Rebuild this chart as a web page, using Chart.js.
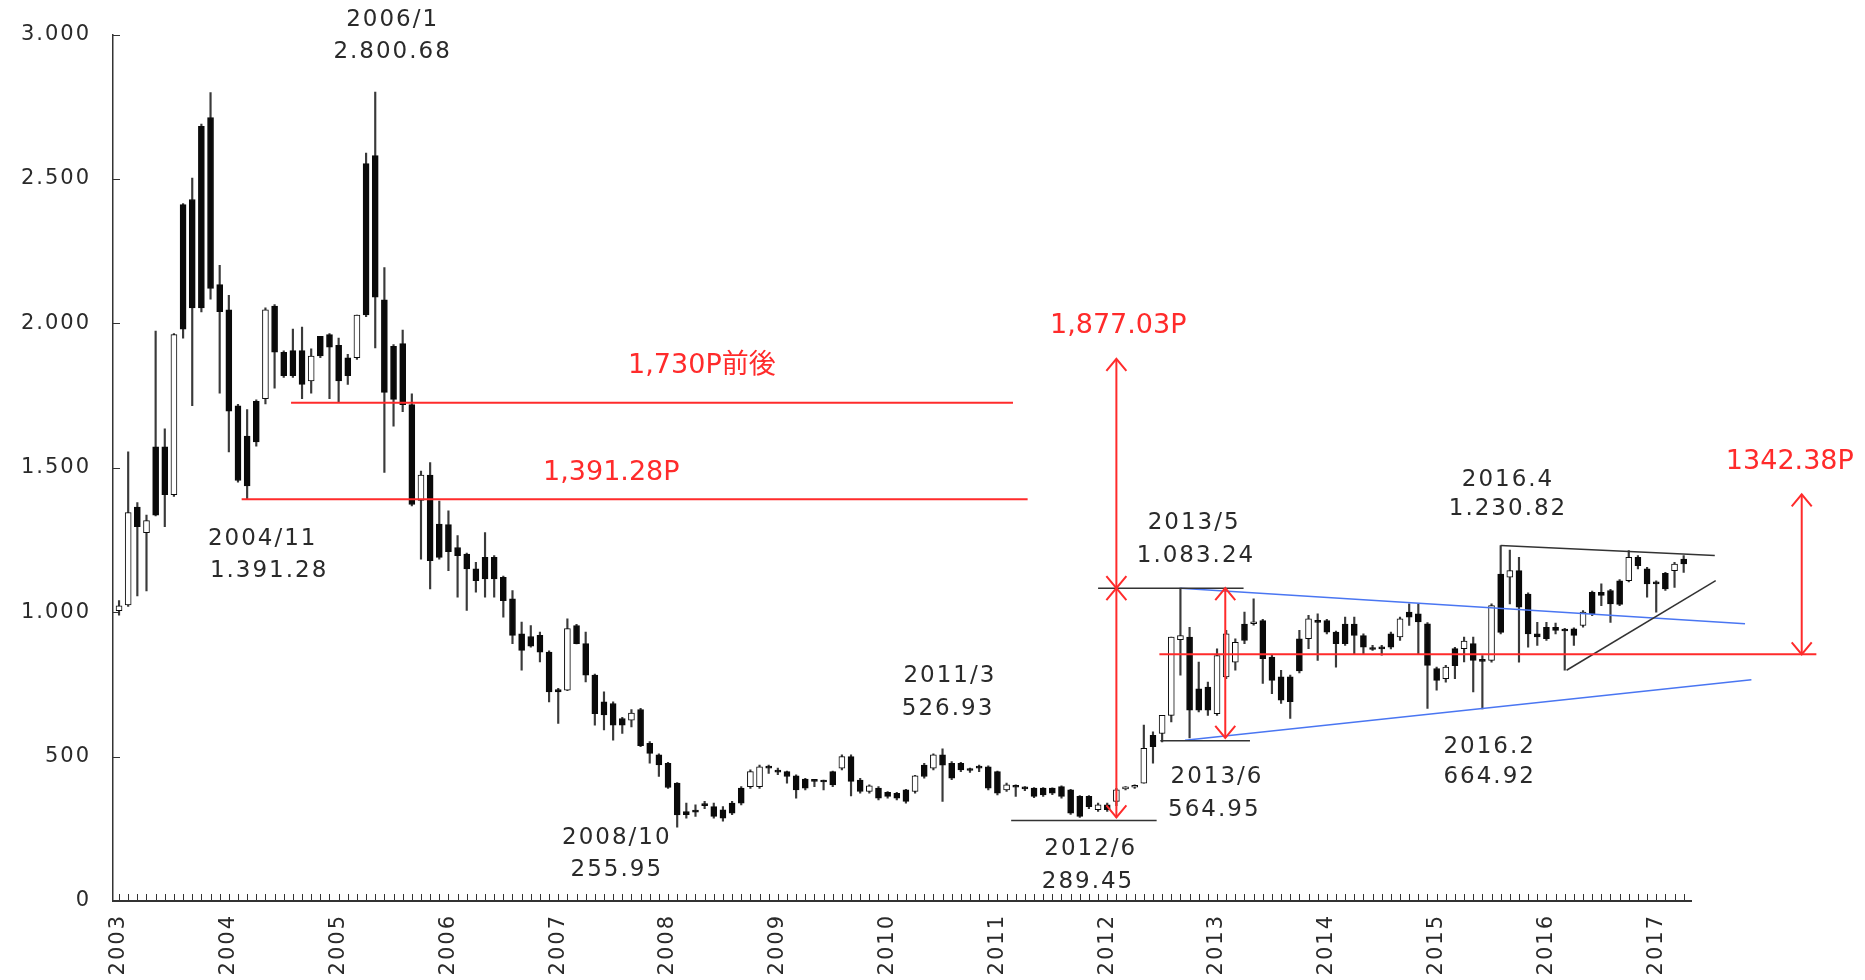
<!DOCTYPE html>
<html><head><meta charset="utf-8">
<script src="https://cdn.jsdelivr.net/npm/chart.js@4.4.1/dist/chart.umd.min.js"></script>
<style>html,body{margin:0;padding:0;background:#fff}#wrap{width:1865px;height:980px;position:relative}</style>
</head><body><div id="wrap"><canvas id="c" width="1865" height="980"></canvas></div>
<script>
// ---- monthly candles, index 0 = 2003/9 ----
const open  = [1005,1025,1364,1275,1573,1573,1407,2411,2429,2682,2713,2134,2047,1715,1610,1730,1739,2060,1900,1906,1906,1801,1955,1961,1924,1881,1881,2553,2581,2082,1921,1930,1719,1387,1475,1305,1303,1224,1201,1150,1190,1190,1121,1046,925,916,920,862,732,730,954,891,782,690,684,632,626,663,546,506,477,408,310,315,335,327,316,339,391,396,396,465,450,448,433,422,418,416,448,460,500,419,379,391,376,373,385,379,471,460,506,477,477,456,466,465,448,385,398,392,391,391,391,396,385,362,362,316,333,345,388,394,408,574,580,643,905,914,735,741,649,776,827,959,960,971,845,776,776,908,908,971,971,931,959,959,919,876,879,925,914,1000,994,960,805,770,874,874,891,835,833,1132,1121,1144,1063,925,948,948,940,942,954,1069,1069,1075,1109,1109,1190,1150,1104,1135,1144,1184];
const high  = [1040,1555,1380,1336,1973,1635,1965,2415,2503,2690,2799,2201,2097,1720,1702,1735,2054,2065,1905,1980,1987,1912,1955,1965,1949,1893,2029,2590,2800.68,2193,1927,1977,1756,1489,1518,1385,1351,1265,1205,1173,1276,1196,1125,1075,966,954,931,866,736,977,958,931,786,724,690,636,663,667,552,510,480,410,339,333,345,339,327,345,396,454,471,471,460,450,437,425,419,419,450,506,506,425,402,396,379,376,387,435,477,510,526.93,483,480,460,471,468,450,408,402,396,393,393,392,399,387,365,365,339,339,390,396,402,609,586,643,914,1083.24,948,827,758,873,937,908,1000,1046,975,851,799,782,937,989,994,975,935,983,983,925,885,885,931,983,1029,1029,964,810,816,878,914,914,850,1029,1230.82,1215,1190,1067,965,965,962,944,946,1006,1073,1098,1079,1113,1213,1196,1155,1109,1138,1173,1196];
const low   = [990,1020,1056,1074,1333,1296,1401,1949,1715,2040,2084,1758,1555,1450,1391.28,1575,1721,1776,1813,1813,1739,1758,1881,1739,1727,1789,1875,2023,1915,1484,1644,1694,1368,1184,1081,1184,1144,1052,1006,1069,1052,1052,983,891,799,879,828,689,615,728,890,759,609,592,557,580,603,534,477,431,390,255.95,287,293,320,287,276,299,333,390,390,442,437,408,356,385,396,385,396,454,364,373,373,350,356,350,339,373,425,454,345,420,448,445,448,385,367,379,362,382,358,362,368,356,300,289.45,320,310,310,330,385,390,408,477,551,620,782,564.95,655,643,643,770,799,891,955,753,718,684,632,790,874,833,925,810,885,856,856,868,851,873,902,954,856,667,730,758,770,828,724,664.92,827,925,1029,827,879,885,902,925,799,885,948,988,1023,965,1023,1105,1150,1052,1000,1075,1086,1138];
const close = [1022,1345,1296,1317,1336,1407,1961,1980,2054,2054,2121,2041,1696,1456,1437,1590,2047,1900,1819,1819,1789,1887,1887,1918,1801,1819,2029,2029,2091,1761,1737,1719,1373,1475,1178,1190,1210,1196,1150,1109,1115,1115,1040,920,868,882,862,724,724,943,891,782,649,644,609,609,651,538,511,471,393,298,299,308,330,293,287,304,339,448,465,460,446,431,385,391,414,412,402,500,414,379,399,356,362,356,345,433,431,506,470,425,454,452,460,391,373,402,394,388,362,367,373,362,304,293,327,333,316,385,392,398,529,534,643,914,919,661,661,661,850,925,896,902,966,839,764,695,690,797,977,965,931,891,891,920,879,871,873,879,977,983,966,816,764,810,815,900,833,830,1023,930,1144,1017,925,914,908,937,935,920,1000,994,1058,1029,1027,1190,1161,1098,1098,1081,1167,1167];

// ---- axis labels ----
const yearTickIdx = [0,12,24,36,48,60,72,84,96,108,120,132,144,156,168];
const yearLabels  = ['2003','2004','2005','2006','2007','2008','2009','2010','2011','2012','2013','2014','2015','2016','2017'];
const yTickValues = [0,500,1000,1500,2000,2500,3000];
const yTickLabels = ['0','500','1.000','1.500','2.000','2.500','3.000'];

// ---- drawn reference lines: [x1, y1, x2, y2] in (month index, index value) ----
const redLines   = [[18.8,1725,97.7,1725],[13.4,1391.28,99.3,1391.28],[113.7,854,185.5,854]];
const blackLines = [[107,1083.24,122.9,1083.24],[113.8,555,123.6,555],[97.5,279,113.4,279],[151,1230.82,174.4,1196],[158.2,799,174.5,1109]];
const blueLines  = [[116,1083.24,177.7,960],[116.5,557,178.4,766]];
// double-headed arrows: [x, from, to]
const arrows = [[109,1083.24,1877],[109,289.45,1083.24],[120.9,564.95,1083.24],[183.9,854,1408]];
// text notes: [text, x, y, kind]
const notes = [
  ['2006/1',29.9,3049,'b'],['2.800.68',29.9,2938,'b'],
  ['2004/11',15.7,1254,'b'],['1.391.28',16.4,1144,'b'],
  ['2008/10',54.4,217,'b'],['255.95',54.4,107,'b'],
  ['2011/3',90.8,778,'b'],['526.93',90.6,664,'b'],
  ['2012/6',106.2,181,'b'],['289.45',105.9,66,'b'],
  ['2013/5',117.5,1310,'b'],['1.083.24',117.7,1196,'b'],
  ['2013/6',120,430,'b'],['564.95',119.7,316,'b'],
  ['2016.4',151.8,1458,'b'],['1.230.82',151.8,1358,'b'],
  ['2016.2',149.8,533,'b'],['664.92',149.8,430,'b'],
  ['1,730P前後',63.7,1851,'r'],['1,391.28P',53.8,1482,'r'],
  ['1,877.03P',109.2,1990,'r'],['1342.38P',182.6,1521,'r']
];

const RED='#ff2b2b', BLUE='#4a76f2', DARK='#333333';
const idx = open.map((_, i) => i);
const bodyData = idx.map(i => ({x:i, y:[Math.min(open[i],close[i]), Math.max(open[i],close[i])]}));
const wickData = idx.map(i => ({x:i, y:[low[i], high[i]]}));
const bodyColors = idx.map(i => close[i] >= open[i] ? '#ffffff' : '#0a0a0a');

function seg(l, color, w){
  return {type:'line', data:[{x:l[0],y:l[1]},{x:l[2],y:l[3]}], borderColor:color, borderWidth:w,
    pointRadius:0, tension:0, clip:false, order:0};
}
const lineSets = [
  ...redLines.map(l=>seg(l,RED,2)),
  ...blackLines.map(l=>seg(l,DARK,1.5)),
  ...blueLines.map(l=>seg(l,BLUE,1.5))
];

const FONT = '"DejaVu Sans", "Noto Sans CJK JP", sans-serif';

const decor = {
  id:'decor',
  beforeDraw(chart){ chart.ctx.letterSpacing = '2px'; },
  afterDraw(chart){
    const {ctx, scales:{x, y}} = chart;
    ctx.save();
    // monthly tick marks (inside, above the axis)
    const yb = y.getPixelForValue(0);
    ctx.strokeStyle = DARK; ctx.lineWidth = 1;
    ctx.beginPath();
    idx.forEach(i => { const px = Math.round(x.getPixelForValue(i)) + 0.5; ctx.moveTo(px, yb); ctx.lineTo(px, yb - 7); });
    const xl = x.getPixelForValue(x.min);
    yTickValues.forEach(v => { const py = Math.round(y.getPixelForValue(v)) + 0.5; ctx.moveTo(xl, py); ctx.lineTo(xl + 7, py); });
    ctx.stroke();
    // arrows
    ctx.strokeStyle = RED; ctx.lineWidth = 2;
    arrows.forEach(a => {
      const px = x.getPixelForValue(a[0]), p1 = y.getPixelForValue(a[1]), p2 = y.getPixelForValue(a[2]);
      ctx.beginPath(); ctx.moveTo(px, p1); ctx.lineTo(px, p2); ctx.stroke();
      [[p1, p2 < p1 ? 1 : -1],[p2, p2 < p1 ? -1 : 1]].forEach(([py, dir]) => {
        ctx.beginPath();
        ctx.moveTo(px - 10, py - dir * 12); ctx.lineTo(px, py); ctx.lineTo(px + 10, py - dir * 12);
        ctx.stroke();
      });
    });
    // notes
    ctx.textAlign = 'center'; ctx.textBaseline = 'middle';
    notes.forEach(n => {
      if (n[3] === 'r') { ctx.font = '27px ' + FONT; ctx.fillStyle = RED; ctx.letterSpacing = '0px'; }
      else { ctx.font = '23px ' + FONT; ctx.fillStyle = '#2a2a2a'; ctx.letterSpacing = '2px'; }
      ctx.fillText(n[0], x.getPixelForValue(n[1]), y.getPixelForValue(n[2]));
    });
    ctx.restore();
  }
};

new Chart(document.getElementById('c'), {
  type:'bar',
  data:{datasets:[
    ...lineSets,
    {type:'bar', data:bodyData, backgroundColor:bodyColors, borderColor:'#0a0a0a', borderWidth:1,
     borderSkipped:false, barThickness:6, grouped:false, minBarLength:2, order:1},
    {type:'bar', data:wickData, backgroundColor:'#3a3a3a', borderWidth:0,
     barThickness:1.5, grouped:false, order:2}
  ]},
  options:{
    responsive:false, animation:false, devicePixelRatio:1,
    layout:{padding:{left:0, top:32, right:174, bottom:0}, autoPadding:false},
    plugins:{legend:{display:false}, tooltip:{enabled:false}},
    scales:{
      x:{type:'linear', min:-0.66, max:171.8, offset:false,
         afterBuildTicks: s => { s.ticks = yearTickIdx.map(v => ({value:v})); },
         afterFit: s => { s.height = 79; },
         ticks:{callback: v => yearLabels[yearTickIdx.indexOf(v)], minRotation:90, maxRotation:90,
                autoSkip:false, padding:13, color:'#2a2a2a', font:{family:FONT, size:21}},
         grid:{display:false, drawTicks:false},
         border:{display:true, color:DARK, width:2}},
      y:{min:0, max:3000,
         afterBuildTicks: s => { s.ticks = yTickValues.map(v => ({value:v})); },
         afterFit: s => { s.width = 113; },
         ticks:{callback: v => yTickLabels[yTickValues.indexOf(v)], padding:22, color:'#2a2a2a',
                font:{family:FONT, size:21}},
         grid:{display:false, drawTicks:false},
         border:{display:true, color:DARK, width:1.5}}
    }
  },
  plugins:[decor]
});
</script></body></html>
